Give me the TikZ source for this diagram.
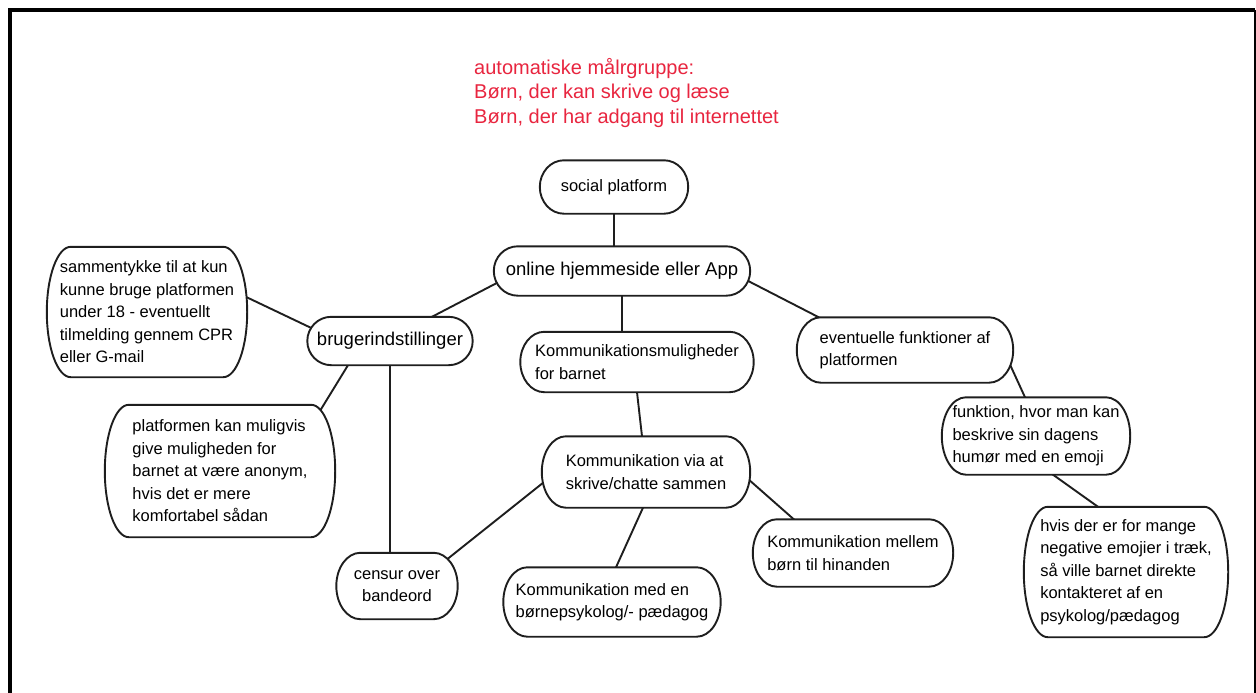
\documentclass[tikz,border=0pt]{standalone}
\usepackage{fontspec}
\setmainfont{Liberation Sans}
\usetikzlibrary{backgrounds,calc}
\definecolor{ink}{HTML}{1E1E1E}
\definecolor{goal}{HTML}{E8253F}
\newcommand{\body}{\fontsize{16.5}{22.5}\selectfont}
\newcommand{\head}{\fontsize{18.5}{22.5}\selectfont}
\newcommand{\goalsize}{\fontsize{20}{24.5}\selectfont}

\begin{document}
\begin{tikzpicture}[x=1pt, y=-1pt,
    box/.style={align=left, inner sep=0pt, font=\body},
    bubble/.style={draw=ink, line width=1.9pt, fill=white},
    link/.style={draw=ink, line width=1.9pt, shorten <=-4pt, shorten >=-4pt}]
    \useasboundingbox (0,0) rectangle (1256,693);
    \draw[line width=3.5pt] (10,693) -- (10,10) -- (1255,10);
    \draw[line width=2pt] (1255,10) -- (1255,693);

    \node (maal) [anchor=north west, inner sep=0pt, align=left, text=goal, font=\goalsize] at (474,58) {automatiske målrgruppe:\\Børn, der kan skrive og læse\\Børn, der har adgang til internettet};

    \node (social) [box, minimum width=148pt, minimum height=53pt] at (614,187) {social platform};
    \node (online) [box, font=\head, align=center, minimum width=256pt, minimum height=49pt] at (622,271) {online hjemmeside eller App};
    \node (bruger) [box, font=\head, align=center, minimum width=165pt, minimum height=48pt] at (390,341) {brugerindstillinger};
    \node (samtykke) [box, minimum width=200pt, minimum height=130pt] at (147,312) {sammentykke til at kun\\kunne bruge platformen\\under 18 - eventuellt\\tilmelding gennem CPR\\eller G-mail};
    \node (anonym) [box, minimum width=230pt, minimum height=132pt] at (220,471) {platformen kan muligvis\\give muligheden for\\barnet at være anonym,\\hvis det er mere\\komfortabel sådan};
    \node (censur) [box, align=center, minimum width=121pt, minimum height=66pt] at (397,586) {censur over\\bandeord};
    \node (kmul) [box, minimum width=233pt, minimum height=60pt] at (637,362) {Kommunikationsmuligheder\\for barnet};
    \node (chat) [box, minimum width=208pt, minimum height=71pt] at (646,472) {Kommunikation via at\\skrive/chatte sammen};
    \node (psyk) [box, minimum width=217pt, minimum height=69pt] at (612,602) {Kommunikation med en\\børnepsykolog/- pædagog};
    \node (mellem) [box, minimum width=200pt, minimum height=67pt] at (853,553) {Kommunikation mellem\\børn til hinanden};
    \node (funk) [box, minimum width=216pt, minimum height=65pt] at (905,350) {eventuelle funktioner af\\platformen};
    \node (humor) [box, minimum width=188pt, minimum height=77pt] at (1036,436) {funktion, hvor man kan\\beskrive sin dagens\\humør med en emoji};
    \node (emoji) [box, minimum width=204pt, minimum height=130pt] at (1126,572) {hvis der er for mange\\negative emojier i træk,\\så ville barnet direkte\\kontakteret af en\\psykolog/pædagog};

    \begin{scope}[on background layer]
        \draw[link] (social.south) -- (social.south |- online.north);
        \draw[link] (online.south) -- (online.south |- kmul.north);
        \draw[link] ([shift={(3,12)}]online.west) -- ([shift={(42,0)}]bruger.north);
        \draw[link] ([shift={(-2,10)}]online.east) -- ([shift={(22,0)}]funk.north west);
        \draw[link] ([shift={(4,-13)}]bruger.west) -- ([shift={(-1,-15)}]samtykke.east);
        \draw[link] ([shift={(-42,0)}]bruger.south) -- ([shift={(-17,9)}]anonym.north east);
        \draw[link] (bruger.south) -- (bruger.south |- censur.north);
        \draw[link] (kmul.south) -- ([shift={(-4,0)}]chat.north);
        \draw[link] ([shift={(1,11)}]chat.west) -- ([shift={(-10,6)}]censur.north east);
        \draw[link] ([shift={(-3,0)}]chat.south) -- ([shift={(4,0)}]psyk.north);
        \draw[link] ([shift={(-1,8)}]chat.east) -- ([shift={(41,0)}]mellem.north west);
        \draw[link] ([shift={(-3,15)}]funk.east) -- ([shift={(-11,0)}]humor.north);
        \draw[link] ([shift={(17,0)}]humor.south) -- ([shift={(-28,0)}]emoji.north);

        \foreach \b in {social,online,bruger,samtykke,anonym,censur,kmul,chat,psyk,mellem,funk,humor,emoji}
            \draw[bubble] let \p1=(\b.north), \p2=(\b.center) in
                ([xshift=-24pt]\b.north east) arc[start angle=90, end angle=-90, x radius=24pt, y radius={\y1-\y2}]
                -- ([xshift=24pt]\b.south west) arc[start angle=270, end angle=90, x radius=24pt, y radius={\y1-\y2}] -- cycle;
    \end{scope}
\end{tikzpicture}
\end{document}
